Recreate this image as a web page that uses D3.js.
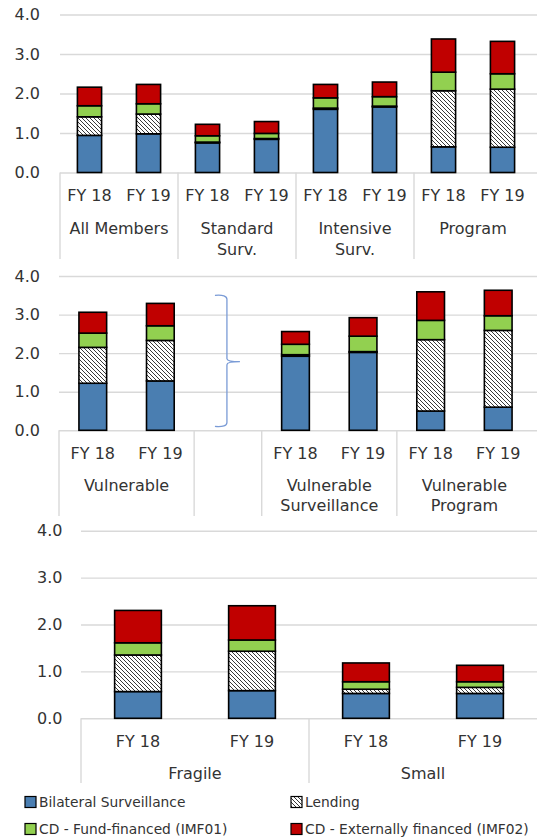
<!DOCTYPE html>
<html>
<head>
<meta charset="utf-8">
<script src="https://cdn.jsdelivr.net/npm/d3@7"></script>
<style>
  html, body { margin: 0; padding: 0; background: #fff; }
  svg { display: block; }
  text { font-family: "DejaVu Sans", Verdana, sans-serif; fill: #333; }
</style>
</head>
<body>
<svg id="chart" width="537" height="840"></svg>
<script>
// ---------- DATA ----------
const seriesNames = ["Bilateral Surveillance", "Lending", "CD - Fund-financed (IMF01)", "CD - Externally financed (IMF02)"];
const yTicks = [0, 1, 2, 3, 4];

// Panel 1
const cats1 = ["FY 18", "FY 19", "FY 18", "FY 19", "FY 18", "FY 19", "FY 18", "FY 19"];
const groups1 = [["All Members"], ["Standard", "Surv."], ["Intensive", "Surv."], ["Program"]];
const groupSizes1 = [2, 2, 2, 2];
const bilateral1 = [0.94, 0.98, 0.75, 0.84, 1.60, 1.66, 0.65, 0.64];
const lending1   = [0.47, 0.50, 0.02, 0.02, 0.03, 0.02, 1.42, 1.47];
const fund1      = [0.28, 0.26, 0.16, 0.13, 0.26, 0.24, 0.47, 0.39];
const external1  = [0.47, 0.49, 0.29, 0.30, 0.34, 0.37, 0.84, 0.82];

// Panel 2
const cats2 = ["FY 18", "FY 19", "", "FY 18", "FY 19", "FY 18", "FY 19"];
const groups2 = [["Vulnerable"], [], ["Vulnerable", "Surveillance"], ["Vulnerable", "Program"]];
const groupSizes2 = [2, 1, 2, 2];
const bilateral2 = [1.22, 1.28, null, 1.92, 2.02, 0.50, 0.60];
const lending2   = [0.93, 1.05, null, 0.04, 0.02, 1.85, 1.99];
const fund2      = [0.37, 0.38, null, 0.27, 0.40, 0.50, 0.38];
const external2  = [0.54, 0.58, null, 0.33, 0.48, 0.74, 0.66];

// Panel 3
const cats3 = ["FY 18", "FY 19", "FY 18", "FY 19"];
const groups3 = [["Fragile"], ["Small"]];
const groupSizes3 = [2, 2];
const bilateral3 = [0.57, 0.59, 0.53, 0.53];
const lending3   = [0.78, 0.84, 0.09, 0.13];
const fund3      = [0.26, 0.24, 0.16, 0.12];
const external3  = [0.69, 0.73, 0.40, 0.35];

// ---------- STYLE ----------
const colors = ["#4A7EB1", "url(#hatch)", "#92D050", "#C00000"];
const keys = ["bilateral", "lending", "fund", "external"];
const gridColor = "#d9d9d9";
const axisFont = "16px";

const svg = d3.select("#chart");
const defs = svg.append("defs");
const pat = defs.append("pattern").attr("id", "hatch")
  .attr("patternUnits", "userSpaceOnUse").attr("width", 4).attr("height", 4);
pat.append("rect").attr("width", 4).attr("height", 4).attr("fill", "#fff");
pat.append("path").attr("d", "M-1,-1 L5,5 M3,-1 L5,1 M-1,3 L1,5")
  .attr("stroke", "#222").attr("stroke-width", 0.9);

function drawPanel(cfg) {
  const { cats, groups, sizes, vals, x0, x1, yBottom, yTop, labelRight,
          fyY, grpY, grpY2, sepBottom } = cfg;
  const g = svg.append("g");
  const y = d3.scaleLinear().domain([0, 4]).range([yBottom, yTop]);
  const x = d3.scaleBand().domain(d3.range(cats.length)).range([x0, x1])
    .paddingInner(0.59).paddingOuter(0.295);

  // gridlines + tick labels
  const ax = g.append("g").attr("transform", `translate(${x0},0)`)
    .call(d3.axisLeft(y).tickValues(yTicks).tickFormat(d3.format(".1f"))
      .tickSize(-(537 - x0)).tickPadding(x0 - labelRight));
  ax.select(".domain").remove();
  ax.selectAll(".tick line").attr("stroke", gridColor).attr("stroke-width", 1.4);
  ax.selectAll(".tick text").style("font-family", "'DejaVu Sans', sans-serif")
    .style("font-size", axisFont).attr("fill", "#333");

  // stacked bars
  const rows = cats.map((c, i) => ({
    i, bilateral: vals[0][i], lending: vals[1][i], fund: vals[2][i], external: vals[3][i]
  })).filter(r => r.bilateral !== null);
  const stacked = d3.stack().keys(keys)(rows);
  stacked.forEach((layer, k) => {
    g.append("g").selectAll("rect").data(layer).join("rect")
      .attr("x", d => x(d.data.i))
      .attr("width", x.bandwidth())
      .attr("y", d => y(d[1]))
      .attr("height", d => y(d[0]) - y(d[1]))
      .attr("fill", colors[k])
      .attr("stroke", "#000").attr("stroke-width", 1.6);
  });

  // category labels
  g.append("g").selectAll("text").data(cats).join("text")
    .attr("x", (d, i) => x(i) + x.bandwidth() / 2)
    .attr("y", fyY).attr("dy", "0.35em").attr("text-anchor", "middle")
    .style("font-size", axisFont).text(d => d);

  // group separators & labels
  const step = x.step();
  let start = 0;
  const bounds = [x0];
  groups.forEach((lines, gi) => {
    const gx0 = x0 + start * step, gx1 = x0 + (start + sizes[gi]) * step;
    if (gi < groups.length - 1) bounds.push(gx1);
    lines.forEach((ln, li) => {
      g.append("text").attr("x", (gx0 + gx1) / 2)
        .attr("y", li === 0 ? grpY : grpY2).attr("dy", "0.35em")
        .attr("text-anchor", "middle").style("font-size", axisFont).text(ln);
    });
    start += sizes[gi];
  });
  g.append("g").selectAll("line").data(bounds).join("line")
    .attr("x1", d => d).attr("x2", d => d)
    .attr("y1", yBottom).attr("y2", sepBottom)
    .attr("stroke", gridColor).attr("stroke-width", 1.4);
  return { x, y };
}

drawPanel({ cats: cats1, groups: groups1, sizes: groupSizes1,
  vals: [bilateral1, lending1, fund1, external1],
  x0: 60, x1: 532, yBottom: 172.5, yTop: 14.5, labelRight: 40,
  fyY: 195, grpY: 228, grpY2: 249, sepBottom: 259 });

const p2 = drawPanel({ cats: cats2, groups: groups2, sizes: groupSizes2,
  vals: [bilateral2, lending2, fund2, external2],
  x0: 59, x1: 532, yBottom: 430.3, yTop: 276, labelRight: 40,
  fyY: 453, grpY: 485, grpY2: 505, sepBottom: 516 });

drawPanel({ cats: cats3, groups: groups3, sizes: groupSizes3,
  vals: [bilateral3, lending3, fund3, external3],
  x0: 81, x1: 537, yBottom: 718.3, yTop: 530.7, labelRight: 62.5,
  fyY: 741, grpY: 773, grpY2: 793, sepBottom: 783 });

// brace in the empty slot of panel 2
(function () {
  const cx = p2.x(2) + p2.x.bandwidth() / 2;
  const xl = cx - 13, xv = cx - 1, xt = cx + 12;
  const yt = p2.y(3.5), yb = p2.y(0.1), ym = p2.y(1.78);
  const path = `M${xl},${yt} Q${xv},${yt - 1} ${xv},${yt + 4} L${xv},${ym - 3} Q${xv},${ym} ${xt},${ym}`
    + ` M${xt},${ym} Q${xv},${ym} ${xv},${ym + 3} L${xv},${yb - 4} Q${xv},${yb + 1} ${xl},${yb}`;
  svg.append("path").attr("d", path).attr("fill", "none")
    .attr("stroke", "#7a9bd6").attr("stroke-width", 1.3);
})();

// legend
const legendItems = [
  { name: seriesNames[0], color: colors[0], x: 25, y: 802 },
  { name: seriesNames[1], color: colors[1], x: 291, y: 802 },
  { name: seriesNames[2], color: colors[2], x: 25, y: 829 },
  { name: seriesNames[3], color: colors[3], x: 291, y: 829 }
];
const lg = svg.append("g").selectAll("g").data(legendItems).join("g")
  .attr("transform", d => `translate(${d.x},${d.y})`);
lg.append("rect").attr("x", 0).attr("y", -5.5).attr("width", 11).attr("height", 11)
  .attr("fill", d => d.color).attr("stroke", "#000").attr("stroke-width", 1.2);
lg.append("text").attr("x", 14).attr("dy", "0.35em")
  .style("font-size", "13.8px").text(d => d.name);
</script>
</body>
</html>
